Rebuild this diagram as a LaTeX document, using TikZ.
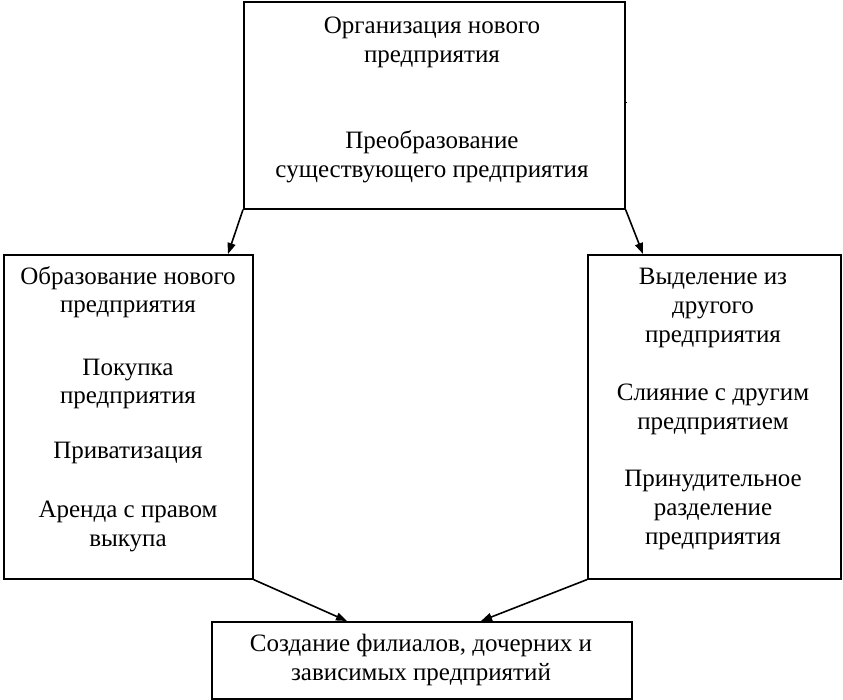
\documentclass[tikz,border=0pt]{standalone}
\usepackage{fontspec}
\setmainfont{Liberation Serif}
\usetikzlibrary{arrows.meta}
\begin{document}
\begin{tikzpicture}[x=1pt,y=-1pt,
  box/.style={draw, line width=1.6pt, inner sep=0pt, anchor=north west},
  txt/.style={align=center, inner sep=0pt, anchor=north, font={\fontsize{25}{28.5}\selectfont}},
  arr/.style={line width=1.6pt, -{Triangle[length=11pt,width=8pt]}}]
\useasboundingbox (0,0) rectangle (843,700);
\node[box, minimum width=381pt, minimum height=207pt] (top) at (243,1) {};
\node[box, minimum width=249pt, minimum height=324pt] (left) at (3,254) {};
\node[box, minimum width=253pt, minimum height=324pt] (right) at (587,254) {};
\node[box, minimum width=420pt, minimum height=77pt] (bot) at (211,621) {};
\node[txt] (t1) at (432,17) {Организация нового\\предприятия\\[58pt]Преобразование\\существующего предприятия};
\node[txt] (t2) at (128,266) {Образование нового\\предприятия\\[34pt]Покупка\\предприятия\\[26pt]Приватизация\\[31pt]Аренда с правом\\выкупа};
\node[txt, font={\fontsize{25}{29.2}\selectfont}] (t3) at (713,268) {Выделение из\\другого\\предприятия\\[28pt]Слияние с другим\\предприятием\\[28pt]Принудительное\\разделение\\предприятия};
\node[txt] (t4) at (421,634) {Создание филиалов, дочерних и\\зависимых предприятий};
\coordinate (a1) at (228,254);
\coordinate (a2) at (643,254);
\coordinate (a3) at (347,621);
\coordinate (a4) at (481,621);
\coordinate (k1) at (627,103);
\draw[arr] (top.south west) -- (a1);
\draw[arr] (top.south east) -- (a2);
\draw[arr] (left.south east) -- (a3);
\draw[arr] (right.south west) -- (a4);
\draw[line width=1pt] (top.east |- k1) -- (k1);
\end{tikzpicture}
\end{document}
